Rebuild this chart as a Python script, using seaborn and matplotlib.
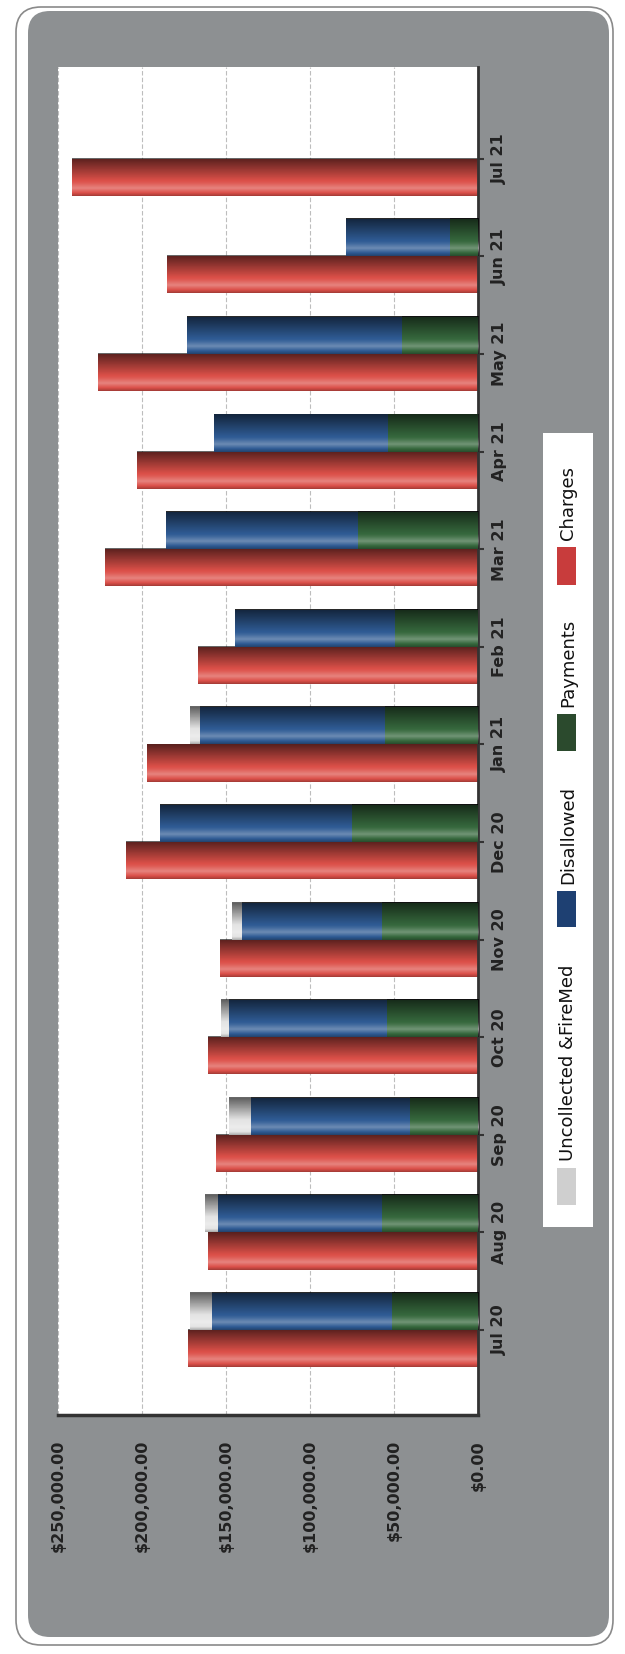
import numpy as np
import pandas as pd
import matplotlib
matplotlib.use("Agg")
import matplotlib.pyplot as plt
import seaborn as sns
from matplotlib.patches import FancyBboxPatch, Rectangle


# data (values in dollars)
months = ["Jul 20", "Aug 20", "Sep 20", "Oct 20", "Nov 20", "Dec 20",
          "Jan 21", "Feb 21", "Mar 21", "Apr 21", "May 21", "Jun 21", "Jul 21"]
charges = [172500, 161000, 156000, 161000, 153400, 209800,
           197100, 166500, 222200, 202800, 226100, 185300, 241500]
payments = [51200, 57100, 40500, 54400, 57300, 75000,
            55300, 49400, 71500, 53700, 45400, 16500, 0]
disallowed = [107200, 97400, 94500, 93600, 83100, 114000,
              110200, 95100, 114100, 103300, 127800, 62100, 0]
uncollected = [13000, 8200, 13500, 5200, 5900, 0,
               5900, 0, 0, 0, 0, 0, 0]
value_ticks = [0, 50000, 100000, 150000, 200000, 250000]

series_names = ["Uncollected &FireMed", "Disallowed", "Payments", "Charges"]
bar_colors = {"Uncollected &FireMed": "#e4e4e4", "Disallowed": "#2f5b94",
              "Payments": "#36683d", "Charges": "#dc5049"}
swatch_colors = {"Uncollected &FireMed": "#cfcfcf", "Disallowed": "#1e4072",
                 "Payments": "#2b4a2d", "Charges": "#c83c3c"}

df = pd.DataFrame({"month": months, "charges": charges, "payments": payments,
                   "disallowed": disallowed, "uncollected": uncollected})
df["pos"] = np.arange(len(df))
df["cum_dis"] = df["payments"] + df["disallowed"]
df["cum_unc"] = df["cum_dis"] + df["uncollected"]

BAR = 0.38

W, H = 625, 1654


def fx(x):
    return x / W


def fy(y):
    return 1 - y / H


sns.set_theme(style="white")
plt.rcParams["font.family"] = ["DejaVu Sans"]

fig = plt.figure(figsize=(W / 100, H / 100), dpi=100, facecolor="white")

# rounded grey frame behind the chart
frame = FancyBboxPatch((16 / 100, (H - 1645) / 100), (613 - 16) / 100, (1645 - 7) / 100,
                       boxstyle="round,pad=0,rounding_size=0.25",
                       transform=fig.dpi_scale_trans, facecolor="white",
                       edgecolor="#8a8a8a", linewidth=1.2, zorder=-3)
fig.add_artist(frame)
inner = FancyBboxPatch((28 / 100, (H - 1637) / 100), (609 - 28) / 100, (1637 - 11) / 100,
                       boxstyle="round,pad=0,rounding_size=0.22",
                       transform=fig.dpi_scale_trans, facecolor="#8d9092",
                       edgecolor="none", zorder=-2)
fig.add_artist(inner)

ax = fig.add_axes([fx(58), fy(1415), (478 - 58) / W, (1415 - 67) / H])
ax.set_facecolor("white")

t = np.linspace(0, 1, 48)
s = np.interp(t, [0, 0.06, 0.2, 0.35, 0.55, 0.85, 1.0],
              [0.25, 0.05, -0.3, -0.05, 0.15, 0.45, 0.6])
shade_img = np.zeros((len(t), 1, 4))
shade_img[:, 0, :3] = np.where(s[:, None] < 0, 1.0, 0.0)
shade_img[:, 0, 3] = np.abs(s)


def draw_layer(col, offset, color, z):
    n_before = len(ax.patches)
    sns.barplot(data=df, x=col, y=df["pos"] + offset, orient="y", native_scale=True,
                width=BAR, color=color, saturation=1, errorbar=None,
                linewidth=0, ax=ax)
    for p in ax.patches[n_before:]:
        p.set_zorder(z)
        x0, y0, w, h = p.get_x(), p.get_y(), p.get_width(), p.get_height()
        if w == 0:
            continue
        # cylinder-like shading
        ax.imshow(shade_img, extent=[x0, x0 + w, y0, y0 + h], origin="lower",
                  aspect="auto", interpolation="bilinear", zorder=z + 0.1)


draw_layer("charges", -BAR / 2, bar_colors["Charges"], 2)
draw_layer("cum_unc", BAR / 2, bar_colors["Uncollected &FireMed"], 3)
draw_layer("cum_dis", BAR / 2, bar_colors["Disallowed"], 4)
draw_layer("payments", BAR / 2, bar_colors["Payments"], 5)

ax.set_xlim(250000, 0)
ax.set_ylim(-0.87, 12.94)
ax.set_xlabel("")
ax.set_ylabel("")

ax.set_xticks(value_ticks)
ax.set_xticklabels([f"${v:,.2f}" for v in value_ticks], rotation=90,
                   ha="center", va="top", fontsize=11.5, fontweight="bold", color="#222222")
ax.set_yticks(df["pos"])
ax.set_yticklabels(df["month"], rotation=90, va="center", ha="left",
                   fontsize=11.5, fontweight="bold", color="#222222")
ax.yaxis.tick_right()
ax.tick_params(axis="x", length=11, width=2.2, color="#333333", pad=7, direction="out")
ax.tick_params(axis="y", length=4, width=1.5, color="#333333", pad=6, direction="out")

ax.grid(axis="x", color="#bdbdbd", linewidth=0.8, linestyle=(0, (4, 2)))
ax.grid(axis="y", visible=False)
ax.set_axisbelow(True)

for side in ["top", "left"]:
    ax.spines[side].set_visible(False)
ax.spines["bottom"].set_color("#333333")
ax.spines["bottom"].set_linewidth(2.5)
ax.spines["right"].set_color("#333333")
ax.spines["right"].set_linewidth(2)

# legend, drawn rotated like the rest of the chart
fig.add_artist(Rectangle((fx(543), fy(1227)), (593 - 543) / W, (1227 - 433) / H,
                         transform=fig.transFigure, facecolor="white",
                         edgecolor="none", zorder=5))
legend_rows = {"Uncollected &FireMed": (1168, 1205), "Disallowed": (891, 927),
               "Payments": (714, 751), "Charges": (547, 585)}
for name in series_names:
    y0, y1 = legend_rows[name]
    fig.add_artist(Rectangle((fx(557), fy(y1)), (576 - 557) / W, (y1 - y0) / H,
                             transform=fig.transFigure, facecolor=swatch_colors[name],
                             edgecolor="none", zorder=6))
    fig.text(fx(568), fy(y0 - 7), name, rotation=90, ha="center", va="bottom",
             fontsize=13, color="#111111", zorder=7)

fig.savefig("out.png", dpi=100, facecolor="white")
